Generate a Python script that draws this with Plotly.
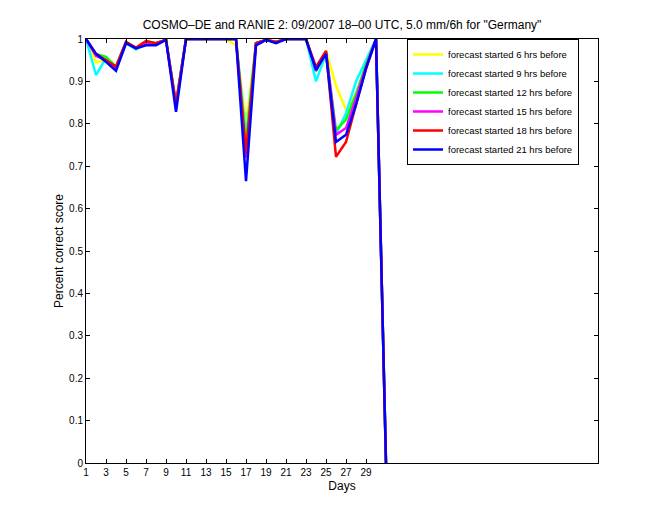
import plotly.graph_objects as go

days = list(range(1, 32))

names = ["forecast started 6 hrs before", "forecast started 9 hrs before",
         "forecast started 12 hrs before", "forecast started 15 hrs before",
         "forecast started 18 hrs before", "forecast started 21 hrs before"]
colors = ["#ffff00", "#00ffff", "#00ff00", "#ff00ff", "#ff0000", "#0000ff"]

h06 = [1.0, 0.945, 0.95, 0.935, 0.993, 0.978, 0.99, 0.99, 0.998, 0.85, 1.0, 1.0, 1.0, 1.0, 1.0, 0.985,
       0.80, 0.99, 0.998, 0.993, 1.0, 1.0, 1.0, 0.925, 0.972, 0.89, 0.833, 0.87, 0.93, 1.0, 0.0]
h09 = [1.0, 0.915, 0.955, 0.93, 0.99, 0.975, 0.99, 0.99, 0.998, 0.845, 1.0, 1.0, 1.0, 1.0, 1.0, 1.0,
       0.77, 0.99, 0.998, 0.993, 1.0, 1.0, 1.0, 0.90, 0.965, 0.775, 0.825, 0.90, 0.95, 1.0, 0.0]
h12 = [1.0, 0.965, 0.958, 0.935, 0.993, 0.978, 0.995, 0.99, 0.998, 0.85, 1.0, 1.0, 1.0, 1.0, 1.0, 1.0,
       0.75, 0.99, 0.998, 0.993, 1.0, 1.0, 1.0, 0.925, 0.97, 0.785, 0.81, 0.87, 0.94, 1.0, 0.0]
h15 = [1.0, 0.96, 0.95, 0.93, 0.993, 0.978, 0.99, 0.99, 0.998, 0.845, 1.0, 1.0, 1.0, 1.0, 1.0, 1.0,
       0.72, 0.99, 0.998, 0.993, 1.0, 1.0, 1.0, 0.925, 0.97, 0.774, 0.79, 0.86, 0.935, 1.0, 0.0]
h18 = [1.0, 0.965, 0.95, 0.935, 0.993, 0.98, 0.995, 0.99, 0.998, 0.845, 1.0, 1.0, 1.0, 1.0, 1.0, 1.0,
       0.73, 0.99, 0.998, 0.993, 1.0, 1.0, 1.0, 0.934, 0.972, 0.722, 0.757, 0.845, 0.93, 1.0, 0.0]
h21 = [1.0, 0.965, 0.946, 0.925, 0.99, 0.978, 0.985, 0.985, 0.998, 0.828, 1.0, 1.0, 1.0, 1.0, 1.0, 1.0,
       0.665, 0.985, 0.998, 0.99, 1.0, 1.0, 1.0, 0.927, 0.965, 0.757, 0.774, 0.845, 0.93, 1.0, 0.0]

series = [h06, h09, h12, h15, h18, h21]

xticks = list(range(1, 30, 2))
yticks = [round(0.1 * i, 1) for i in range(11)]
yticklabels = ["0", "0.1", "0.2", "0.3", "0.4", "0.5", "0.6", "0.7", "0.8", "0.9", "1"]

fig = go.Figure()
for nm, col, vals in zip(names, colors, series):
    fig.add_trace(go.Scatter(x=days, y=vals, mode="lines", name=nm,
                             line=dict(color=col, width=2.5)))

font = "Liberation Sans, Arial, Helvetica, sans-serif"
fig.update_layout(
    width=660, height=520,
    margin=dict(l=86, r=62, t=39, b=57),
    paper_bgcolor="white", plot_bgcolor="white",
    font=dict(family=font, size=10, color="black"),
    title=dict(text='COSMO–DE and RANIE 2: 09/2007 18–00 UTC, 5.0 mm/6h for "Germany"',
               x=(86 + 256) / 660, xanchor="center", y=1 - 25 / 520, yanchor="middle",
               font=dict(size=12)),
    showlegend=True,
    legend=dict(x=0.627, y=1.0, xanchor="left", yanchor="top",
                bgcolor="white", bordercolor="black", borderwidth=1,
                font=dict(size=9.5), tracegroupgap=0),
    xaxis=dict(range=[1, 52.2], tickmode="array", tickvals=xticks,
               ticks="inside", ticklen=4, tickcolor="black",
               showline=True, linecolor="black", linewidth=1, mirror="allticks",
               showgrid=False, zeroline=False,
               title=dict(text="Days", font=dict(size=12), standoff=4)),
    yaxis=dict(range=[0, 1], tickmode="array", tickvals=yticks, ticktext=yticklabels,
               ticks="inside", ticklen=4, tickcolor="black",
               showline=True, linecolor="black", linewidth=1, mirror="allticks",
               showgrid=False, zeroline=False,
               title=dict(text="Percent correct score", font=dict(size=12), standoff=2)),
)

fig.write_html("out.html")
